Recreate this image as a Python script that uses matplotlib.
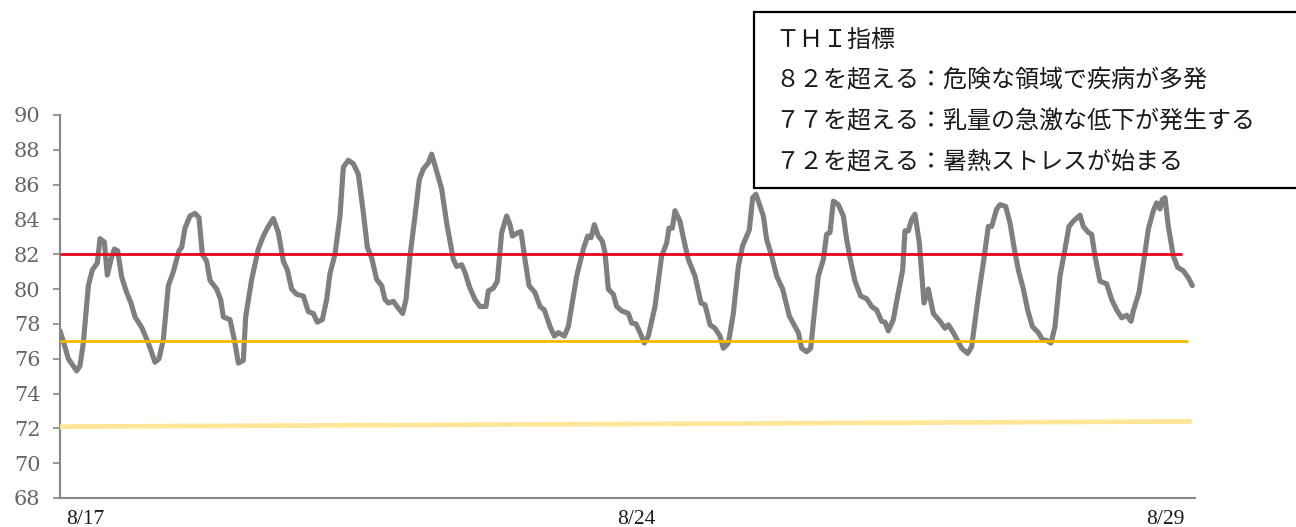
import matplotlib
matplotlib.use("Agg")
import matplotlib.pyplot as plt
from matplotlib.patches import Rectangle

# Hourly THI readings (hours from the start of 8/17, THI value)
hours = [
    0.0, 0.7, 2.5, 5.0, 6.0, 7.0, 8.5, 9.7, 11.2, 12.0, 13.3, 14.2, 15.3, 16.3, 17.3,
    18.5, 20.0, 21.3, 22.5, 24.5, 26.5, 28.5, 29.7, 31.0, 32.5, 34.0, 35.7, 36.5, 37.5,
    39.0, 40.5, 41.7, 42.7, 44.0, 45.0, 47.0, 48.2, 49.0, 51.0, 52.5, 53.5, 55.0, 55.7,
    57.5, 59.5, 61.0, 62.5, 64.0, 65.5, 67.0, 68.2, 69.5, 71.0, 73.0, 74.5, 76.0, 77.2,
    78.7, 80.0, 81.0, 82.5, 84.0, 85.0, 86.5, 88.0, 89.5, 91.0, 92.2, 93.5, 95.0, 96.5,
    97.5, 98.5, 100.0, 101.5, 102.8, 103.8, 105.0, 106.5, 107.8, 109.0, 110.5, 111.5,
    112.5, 114.5, 116.0, 117.0, 118.0, 119.0, 120.5, 121.5, 123.0, 124.5, 126.0, 127.8,
    128.5, 130.0, 131.2, 132.5, 134.0, 135.0, 135.7, 137.5, 138.3, 139.5, 140.7, 142.5,
    144.0, 145.3, 147.0, 148.3, 149.5, 151.3, 152.5, 155.0, 157.0, 158.3, 159.3, 160.3,
    161.5, 162.7, 163.5, 164.5, 166.0, 167.0, 168.5, 170.5, 171.5, 172.8, 174.0, 175.3,
    176.5, 178.5, 180.5, 182.0, 182.7, 183.7, 184.5, 186.0, 187.0, 188.5, 190.5, 192.3,
    193.5, 195.0, 196.5, 198.0, 199.0, 200.5, 202.0, 203.5, 204.8, 206.8, 207.8, 208.8,
    211.0, 212.0, 213.5, 215.0, 216.8, 218.8, 220.5, 221.5, 222.5, 224.0, 225.2, 226.5,
    227.5, 229.0, 230.0, 231.0, 232.0, 233.5, 235.0, 236.0, 237.2, 238.5, 240.2, 242.0,
    243.5, 245.0, 246.5, 247.5, 248.5, 250.0, 251.5, 252.8, 253.5, 254.5, 255.5, 256.5,
    257.8, 259.2, 260.5, 262.0, 264.0, 265.5, 266.5, 268.0, 270.5, 272.3, 273.5, 275.5,
    277.0, 278.5, 279.5, 281.0, 282.0, 283.7, 285.0, 286.3, 287.5, 289.0, 290.3, 291.7,
    293.5, 294.7, 296.0, 297.3, 298.5, 300.0, 301.5, 302.7, 304.0, 306.0, 307.0, 308.5,
    309.5, 310.5, 312.0, 314.0, 315.5, 317.0, 318.5, 320.0, 321.3, 322.0, 323.7, 325.5,
    326.5, 328.0, 329.0, 330.0, 330.7, 331.5, 332.5, 334.0, 335.3, 337.0, 338.5, 339.7,
]
thi = [
    77.6, 77.2, 76.0, 75.3, 75.6, 76.9, 80.2, 81.1, 81.5, 82.9, 82.7, 80.8, 81.7, 82.3, 82.2,
    80.7, 79.8, 79.2, 78.4, 77.8, 76.9, 75.8, 76.0, 77.1, 80.2, 81.0, 82.2, 82.4, 83.5,
    84.2, 84.35, 84.1, 82.0, 81.6, 80.5, 80.0, 79.4, 78.4, 78.25, 76.9, 75.75, 75.9, 78.4,
    80.55, 82.3, 83.05, 83.6, 84.05, 83.25, 81.6, 81.1, 80.0, 79.7, 79.6, 78.7, 78.6, 78.1,
    78.25, 79.4, 80.9, 82.0, 84.2, 87.0, 87.4, 87.2, 86.6, 84.4, 82.4, 81.8, 80.55, 80.2,
    79.4, 79.2, 79.3, 78.9, 78.6, 79.4, 81.9, 84.2, 86.3, 86.9, 87.25, 87.75,
    87.1, 85.75, 83.8, 82.75, 81.7, 81.3, 81.4, 80.95, 80.05, 79.4, 79.0, 79.0,
    79.9, 80.05, 80.45, 83.25, 84.2, 83.7, 83.05, 83.25, 83.3, 81.7, 80.2, 79.8,
    79.0, 78.8, 77.85, 77.3, 77.5, 77.3, 77.85, 80.75, 82.3, 83.05, 82.95, 83.7,
    83.05, 82.75, 82.1, 80.0, 79.7, 79.0, 78.75, 78.6, 78.05, 78.0, 77.5, 76.9,
    77.3, 79.0, 81.9, 82.65, 83.5, 83.5, 84.5, 83.9, 82.95, 81.7, 80.75, 79.2,
    79.1, 77.95, 77.75, 77.3, 76.6, 76.9, 78.6, 81.3, 82.5, 83.4, 85.25, 85.45,
    84.2, 82.85, 81.9, 80.75, 80.0, 78.45, 77.85, 77.5, 76.6, 76.4, 76.6, 79.0,
    80.75, 81.7, 83.15, 83.25, 85.05, 84.85, 84.2, 82.85, 81.6, 80.45, 79.6, 79.45,
    79.0, 78.8, 78.15, 78.1, 77.6, 78.25, 79.8, 81.1, 83.35, 83.35, 84.0, 84.3,
    82.65, 79.2, 80.0, 78.6, 78.15, 77.75, 77.95, 77.5, 76.6, 76.3, 76.7, 79.6,
    81.5, 83.6, 83.6, 84.6, 84.85, 84.75, 83.8, 82.3, 81.1, 80.0, 78.8, 77.85,
    77.5, 77.1, 77.05, 76.9, 77.85, 80.75, 82.3, 83.6, 83.9, 84.25, 83.6, 83.25,
    83.15, 81.9, 80.45, 80.3, 79.4, 78.8, 78.35, 78.5, 78.15, 78.75, 79.8, 82.1,
    83.45, 84.5, 84.95, 84.6, 85.15, 85.25, 83.6, 81.9, 81.25, 81.05, 80.65, 80.2,
]

# Threshold reference lines: (start hour, end hour), (start value, end value)
danger_x, danger_y = [0.0, 336.6], [82.0, 82.0]
milk_x, milk_y = [0.0, 338.4], [77.0, 77.0]
stress_x, stress_y = [0.0, 339.5], [72.1, 72.4]

tick_hours = [7.5, 173.0, 331.5]
tick_labels = ["8/17", "8/24", "8/29"]
y_ticks = list(range(68, 91, 2))

legend_lines = [
    "ＴＨＩ指標",
    "８２を超える：危険な領域で疾病が多発",
    "７７を超える：乳量の急激な低下が発生する",
    "７２を超える：暑熱ストレスが始まる",
]

W, H = 1296, 527
fig = plt.figure(figsize=(W / 100, H / 100), dpi=100)
ax = fig.add_axes([60 / W, 1 - 498 / H, (1195 - 60) / W, (498 - 115) / H])

ax.plot(hours, thi, color="#7f7f7f", lw=3.7, solid_joinstyle="round",
        solid_capstyle="round", zorder=2)
ax.plot(stress_x, stress_y, color="#ffe699", lw=3.4, zorder=3, solid_capstyle="butt")
ax.plot(milk_x, milk_y, color="#f5b800", lw=2.0, zorder=3, solid_capstyle="butt")
ax.plot(danger_x, danger_y, color="#e8001c", lw=2.0, zorder=3, solid_capstyle="butt")

ax.set_xlim(0, 340.5)
ax.set_ylim(68, 90)
ax.set_yticks(y_ticks)
ax.set_yticklabels([str(v) for v in y_ticks], family="DejaVu Serif",
                   fontsize=15, color="#666666")
ax.set_xticks(tick_hours)
ax.set_xticklabels(tick_labels, family="Liberation Serif", fontsize=15.5, color="#1a1a1a")
ax.tick_params(axis="y", length=5, width=1.2, color="#888888", pad=9)
ax.tick_params(axis="x", length=0, pad=9)
for side in ("top", "right"):
    ax.spines[side].set_visible(False)
for side in ("left", "bottom"):
    ax.spines[side].set_color("#888888")
    ax.spines[side].set_linewidth(1.5)

# Explanatory box in the upper right
box = Rectangle((754 / W, 1 - 188 / H), (W + 10 - 754) / W, (188 - 12) / H,
                transform=fig.transFigure, facecolor="white", edgecolor="black",
                lw=1.6, zorder=5, clip_on=False)
fig.patches.append(box)
for txt, yc in zip(legend_lines, [40, 80, 121, 162]):
    fig.text(775 / W, 1 - yc / H, txt, family=["Noto Sans CJK JP", "DejaVu Sans"],
             fontsize=17.3, color="#1a1a1a", va="center", ha="left", zorder=6)

fig.savefig("out.png", dpi=100)
